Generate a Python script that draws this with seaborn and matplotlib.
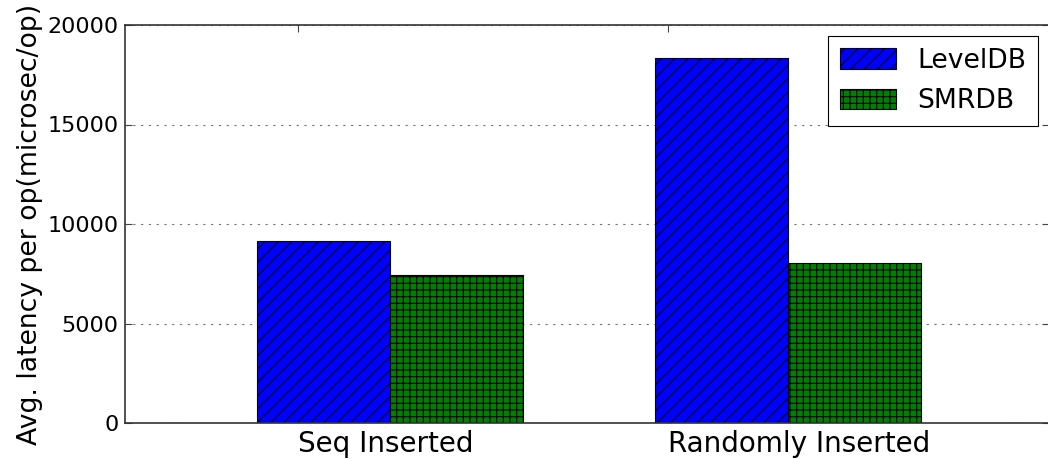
import matplotlib
matplotlib.use('Agg')
import matplotlib.pyplot as plt
import seaborn as sns
import pandas as pd

categories = ['Seq Inserted', 'Randomly Inserted']
series = ['LevelDB', 'SMRDB']
leveldb = [9150, 18350]
smrdb = [7440, 8050]
colors = ['#0000ff', '#008000']
hatches = ['//', '++']
yticks = [0, 5000, 10000, 15000, 20000]
ylabel = 'Avg. latency per op(microsec/op)'

df = pd.DataFrame({
    'category': categories * 2,
    'db': [series[0]] * 2 + [series[1]] * 2,
    'latency': leveldb + smrdb,
})

plt.rcParams['font.family'] = ['DejaVu Sans']
plt.rcParams['hatch.linewidth'] = 1.0

fig = plt.figure(figsize=(1048 / 80, 459 / 80), dpi=80)
ax = fig.add_axes([125 / 1048, 1 - 423 / 459, (1049 - 125) / 1048, (423 - 25) / 459])
sns.barplot(data=df, x='category', y='latency', hue='db', order=categories,
            hue_order=series, palette=dict(zip(series, colors)), width=2 / 3,
            saturation=1, edgecolor='black', linewidth=1, legend=False,
            errorbar=None, ax=ax)
for cont, h in zip(ax.containers, hatches):
    for p in cont:
        p.set_hatch(h)

ax.set_axisbelow(True)
ax.set_xlim(-0.665, 1.655)
ax.set_ylim(0, 20000)
ax.set_yticks(yticks)
ax.set_yticklabels([str(v) for v in yticks], fontsize=20)
ax.set_xticks([-0.231, 0.698])
ax.set_xticklabels(categories, fontsize=25, ha='left')
ax.set_xlabel('')
ax.set_ylabel(ylabel, fontsize=24, labelpad=4)
ax.tick_params(direction='in', top=True, right=True, length=6.5, width=1, pad=6,
               color='#444444')
for s in ax.spines.values():
    s.set_linewidth(1.5)
    s.set_color('#333333')
ax.yaxis.grid(True, linestyle=(0, (2, 5)), color='0.45', linewidth=1)

ax.legend(ax.containers, series, loc='upper right', fontsize=24, frameon=True,
          fancybox=False, edgecolor='black', framealpha=1, borderaxespad=0.4,
          handlelength=2.1, handleheight=0.8, borderpad=0.45, labelspacing=0.55)

fig.savefig('out.png', dpi=80)
